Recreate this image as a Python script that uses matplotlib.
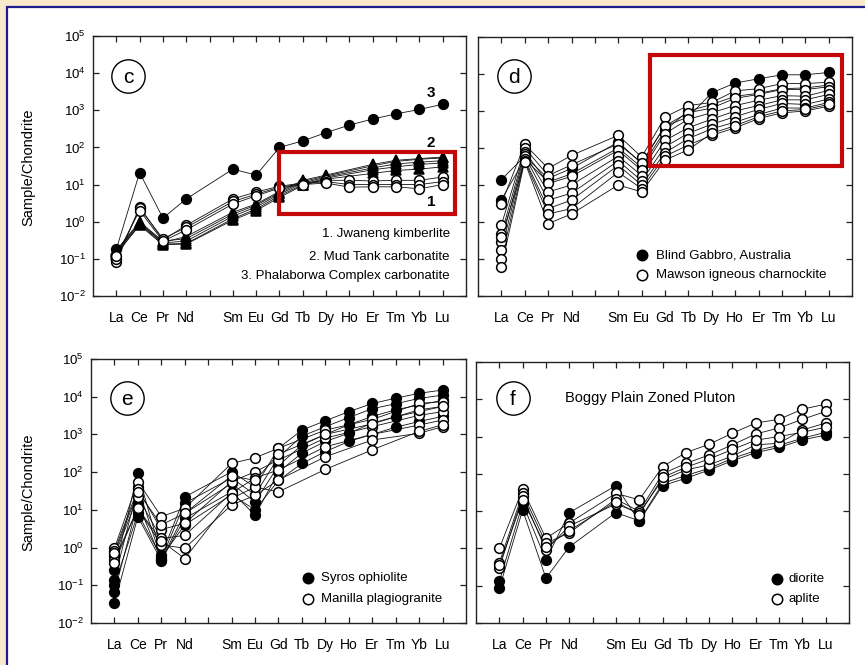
import numpy as np
import matplotlib
matplotlib.use('Agg')
import matplotlib.pyplot as plt
from matplotlib.patches import Rectangle

plt.rcParams['font.family'] = ['Liberation Sans', 'DejaVu Sans']
plt.rcParams['mathtext.default'] = 'regular'
plt.rcParams['axes.unicode_minus'] = False

# ---------------- data ----------------
tick_labels = ['La', 'Ce', 'Pr', 'Nd', '', 'Sm', 'Eu', 'Gd', 'Tb', 'Dy', 'Ho', 'Er', 'Tm', 'Yb', 'Lu']
ree = ['La', 'Ce', 'Pr', 'Nd', 'Sm', 'Eu', 'Gd', 'Tb', 'Dy', 'Ho', 'Er', 'Tm', 'Yb', 'Lu']
y_exponents = [-2, -1, 0, 1, 2, 3, 4, 5]
N = None

# panel c
jwaneng = [
    [0.08, 2.5, 0.32, 0.80, 4.1, 6.3, 9.0, 11, 13, 13, 12.5, 13, 13, 16],
    [0.10, 2.3, 0.35, 0.70, 3.5, 5.5, 8.5, 10.5, 12, 10, 10, 10, 10, 12],
    [0.12, 2.0, 0.30, 0.60, 3.0, 5.0, 8.0, 10, 11, 8.5, 8.7, 8.7, 7.7, 10],
]
mud_tank = [
    [0.13, 0.85, 0.25, 0.26, 1.2, 2.2, 5.0, 10, 15, N, 25, 30, 35, 38],
    [0.15, 0.90, 0.27, 0.30, 1.4, 2.5, 5.5, 11, 16, N, 28, 36, 40, 44],
    [0.17, 1.00, 0.30, 0.35, 1.6, 2.8, 6.0, 12, 17, N, 32, 42, 48, 52],
    [0.14, 0.80, 0.24, 0.25, 1.1, 2.0, 4.5, 9.5, 14, N, 20, 24, 26, 30],
    [0.16, 0.95, 0.28, 0.40, 1.8, 3.0, 6.5, 13, 18, N, 35, 45, 50, 55],
]
phalaborwa = [
    [0.18, 21, 1.25, 4.1, 26, 18, 100, 150, 250, 400, 580, 800, 1050, 1450],
]
c_names = ['1. Jwaneng kimberlite', '2. Mud Tank carbonatite', '3. Phalaborwa Complex carbonatite']
c_numbers = ['3', '2', '1']
c_number_y = [2900, 131, 3.4]

# panel d
blind_gabbro = [
    [14, 60, 15, 28, 145, 38, 390, 690, 3100, 5700, 7400, 9500, 9500, 11000],
    [4.0, 50, 12, 20, 100, 30, 300, 1000, 1500, 2500, 3000, 4000, 4200, 5000],
]
mawson = [
    [3.1, 126, 28, 63, 220, 57, 690, 1400, 1700, 3500, 4000, 5500, 5500, 6000],
    [0.83, 100, 18, 35, 130, 40, 400, 900, 1200, 2200, 2800, 3800, 3800, 4500],
    [0.48, 80, 11, 17, 87, 25, 245, 600, 900, 1400, 1950, 2600, 2500, 3600],
    [0.29, 70, 6.5, 10, 60, 18, 160, 355, 600, 1000, 1400, 2000, 2000, 2800],
    [0.17, 60, 3.9, 6.0, 45, 13, 107, 250, 440, 700, 1100, 1600, 1500, 2100],
    [0.10, 50, 2.3, 3.9, 34, 10, 75, 180, 330, 500, 800, 1200, 1200, 1700],
    [0.06, 45, 1.65, 2.3, 22, 8.0, 60, 120, 220, 350, 620, 890, 1000, 1350],
    [0.40, 42, 0.9, 1.65, 10, 6.5, 47, 90, 250, 400, 700, 1000, 1100, 1500],
]
d_names = ['Blind Gabbro, Australia', 'Mawson igneous charnockite']

# panel e
syros = [
    [0.25, 95, 0.63, 22, 102, 40, 430, 1300, 2300, 4000, 6600, 9100, 12300, 15000],
    [0.14, 40, 0.50, 15, 70, 25, 250, 900, 1600, 2800, 4800, 6500, 9000, 11000],
    [0.067, 15, 0.47, 8.0, 50, 16, 150, 520, 1000, 1800, 3000, 4500, 6000, 8000],
    [0.033, 6.6, 0.45, 5.9, 30, 7.2, 100, 320, 650, 1070, 2000, 2950, 4000, 5500],
    [0.10, 8.0, 0.55, 4.0, 25, 10, 60, 170, 350, 650, 1000, 1550, 2200, 3000],
]
manilla = [
    [0.95, 56, 6.6, 11, 170, 240, 430, N, 1300, N, 2500, N, 6600, 7400],
    [0.80, 36, 3.0, 4.4, 56, 102, 210, N, 800, N, 1600, N, 3200, 4000],
    [0.60, 22, 1.74, 2.1, 28, 70, 114, N, 470, N, 1000, N, 1770, 2400],
    [0.48, 11, 1.17, 0.96, 13.5, 24, 62, N, 255, N, 710, N, 1070, 1600],
    [0.40, 11, 1.5, 0.51, 20, 40, 30, N, 118, N, 390, N, 1200, 1800],
    [0.70, 30, 4.0, 8.0, 80, 60, 300, N, 1000, N, 1900, N, 4500, 5500],
]
e_names = ['Syros ophiolite', 'Manilla plagiogranite']

# panel f
diorite = [
    [0.13, 16, 0.49, 9.1, 48, 5.3, 48, 76, 126, 225, 370, 510, 810, 1100],
    [0.085, 10.7, 0.16, 1.1, 9.1, 5.5, 55, 90, 140, 260, 420, 580, 900, 1300],
]
aplite = [
    [1.0, 39, 1.86, 4.8, 30, 20, 155, 370, 620, 1230, 2300, 2900, 5400, 7400],
    [0.41, 30, 1.38, 2.6, 21, 9.8, 100, 190, 320, 600, 1170, 1700, 2900, 4700],
    [0.30, 25, 0.90, 4.0, 15.5, 9.0, 69, 126, 175, 300, 600, 660, 1500, 2300],
    [0.35, 20, 1.10, 3.0, 18, 8.0, 80, 150, 250, 450, 800, 1000, 1300, 1780],
]
f_names = ['diorite', 'aplite']
f_title = 'Boggy Plain Zoned Pluton'

# red highlight boxes (data coords: x index range, y value range)
box_c = (7.0, 14.55, 1.6, 75)
box_d = (6.34, 14.55, 33, 31600)

# ---------------- drawing ----------------
fig = plt.figure(figsize=(8.65, 6.65), dpi=100)
fig.patch.set_facecolor('#f9e9cc')
fig.patches.append(Rectangle((6.5 / 865, -0.2), 1.3, 1.2 - 6.5 / 665,
                             transform=fig.transFigure, facecolor='white',
                             edgecolor='#1c1c8a', lw=1.6, zorder=-10))

pos_map = [tick_labels.index(e) for e in ree]


def draw_series(ax, samples, marker, filled, ms):
    for s in samples:
        xs = [pos_map[i] for i, v in enumerate(s) if v is not None]
        ys = [v for v in s if v is not None]
        ax.plot(xs, ys, '-', color='#111111', lw=0.6, zorder=2)
        ax.plot(xs, ys, linestyle='none', marker=marker, ms=ms,
                mfc='black' if filled else 'white', mec='black', mew=1.1, zorder=3)


def setup(ax, letter, letter_xy, show_ylabels):
    ax.set_yscale('log')
    ax.set_ylim(1e-2, 1e5)
    ax.set_xlim(-1, len(tick_labels))
    ax.set_xticks(range(len(tick_labels)))
    ax.set_xticklabels(tick_labels, fontsize=10)
    ax.set_yticks([10.0 ** e for e in y_exponents])
    ax.yaxis.set_minor_locator(matplotlib.ticker.NullLocator())
    if show_ylabels:
        ax.set_yticklabels(['$\\mathregular{10^{%d}}$' % e for e in y_exponents], fontsize=9.5)
    else:
        ax.set_yticklabels([])
    ax.tick_params(axis='both', which='both', direction='in', top=True, right=True,
                   length=4, width=0.9, color='#222222')
    ax.tick_params(axis='x', pad=11)
    ax.tick_params(axis='y', pad=5)
    for sp in ax.spines.values():
        sp.set_linewidth(1.0)
        sp.set_color('#222222')
    ax.plot([letter_xy[0]], [letter_xy[1]], 'o', ms=24, mfc='none', mec='black', mew=1.0,
            transform=ax.transAxes, clip_on=False, zorder=5)
    ax.text(letter_xy[0], letter_xy[1] - 0.005, letter, transform=ax.transAxes, ha='center',
            va='center', fontsize=15, zorder=6)


def legend_entries(ax, x_marker, x_text, ys, names, fs):
    for y, name, filled in zip(ys, names, [True, False]):
        ax.plot([x_marker], [y], 'o', ms=7.5, mfc='black' if filled else 'white', mec='black',
                mew=1.1, transform=ax.transAxes, clip_on=False, zorder=5)
        ax.text(x_text, y, name, transform=ax.transAxes, ha='left', va='center', fontsize=fs)


axc = fig.add_axes([0.1075, 0.5549, 0.4312, 0.3910])
axd = fig.add_axes([0.5526, 0.5549, 0.4324, 0.3895])
axe = fig.add_axes([0.1052, 0.0632, 0.4335, 0.3970])
axf = fig.add_axes([0.5503, 0.0632, 0.4312, 0.3925])

MS = 7.0

# panel c
setup(axc, 'c', (0.094, 0.846), True)
draw_series(axc, mud_tank, '^', True, 6.5)
draw_series(axc, phalaborwa, 'o', True, MS)
draw_series(axc, jwaneng, 'o', False, MS)
for lab, yv in zip(c_numbers, c_number_y):
    axc.text(13.5, yv, lab, ha='center', va='center', fontsize=11, fontweight='bold')
for y, name in zip([0.238, 0.150, 0.077], c_names):
    axc.text(0.957, y, name, transform=axc.transAxes, ha='right', va='center', fontsize=9.5)
axc.add_patch(Rectangle((box_c[0], box_c[2]), box_c[1] - box_c[0], box_c[3] - box_c[2],
                        fill=False, edgecolor='#c4080a', lw=3.0, zorder=10, clip_on=False))

# panel d
setup(axd, 'd', (0.096, 0.849), False)
draw_series(axd, blind_gabbro, 'o', True, MS)
draw_series(axd, mawson, 'o', False, MS)
legend_entries(axd, 0.439, 0.476, [0.158, 0.081], d_names, 9.5)
axd.add_patch(Rectangle((box_d[0], box_d[2]), box_d[1] - box_d[0], box_d[3] - box_d[2],
                        fill=False, edgecolor='#c4080a', lw=3.0, zorder=10, clip_on=False))

# panel e
setup(axe, 'e', (0.096, 0.852), True)
draw_series(axe, syros, 'o', True, MS)
draw_series(axe, manilla, 'o', False, MS)
legend_entries(axe, 0.579, 0.613, [0.170, 0.091], e_names, 9.5)

# panel f
setup(axf, 'f', (0.099, 0.862), False)
draw_series(axf, diorite, 'o', True, MS)
draw_series(axf, aplite, 'o', False, MS)
legend_entries(axf, 0.807, 0.839, [0.169, 0.092], f_names, 9.5)
axf.text(0.239, 0.862, f_title, transform=axf.transAxes, ha='left', va='center', fontsize=10.5)

fig.text(28 / 865, 1 - 167 / 665, 'Sample/Chondrite', rotation=90, ha='center', va='center', fontsize=10.5)
fig.text(28 / 865, 1 - 492.5 / 665, 'Sample/Chondrite', rotation=90, ha='center', va='center', fontsize=10.5)

fig.savefig('out.png', dpi=100, facecolor=fig.get_facecolor())
